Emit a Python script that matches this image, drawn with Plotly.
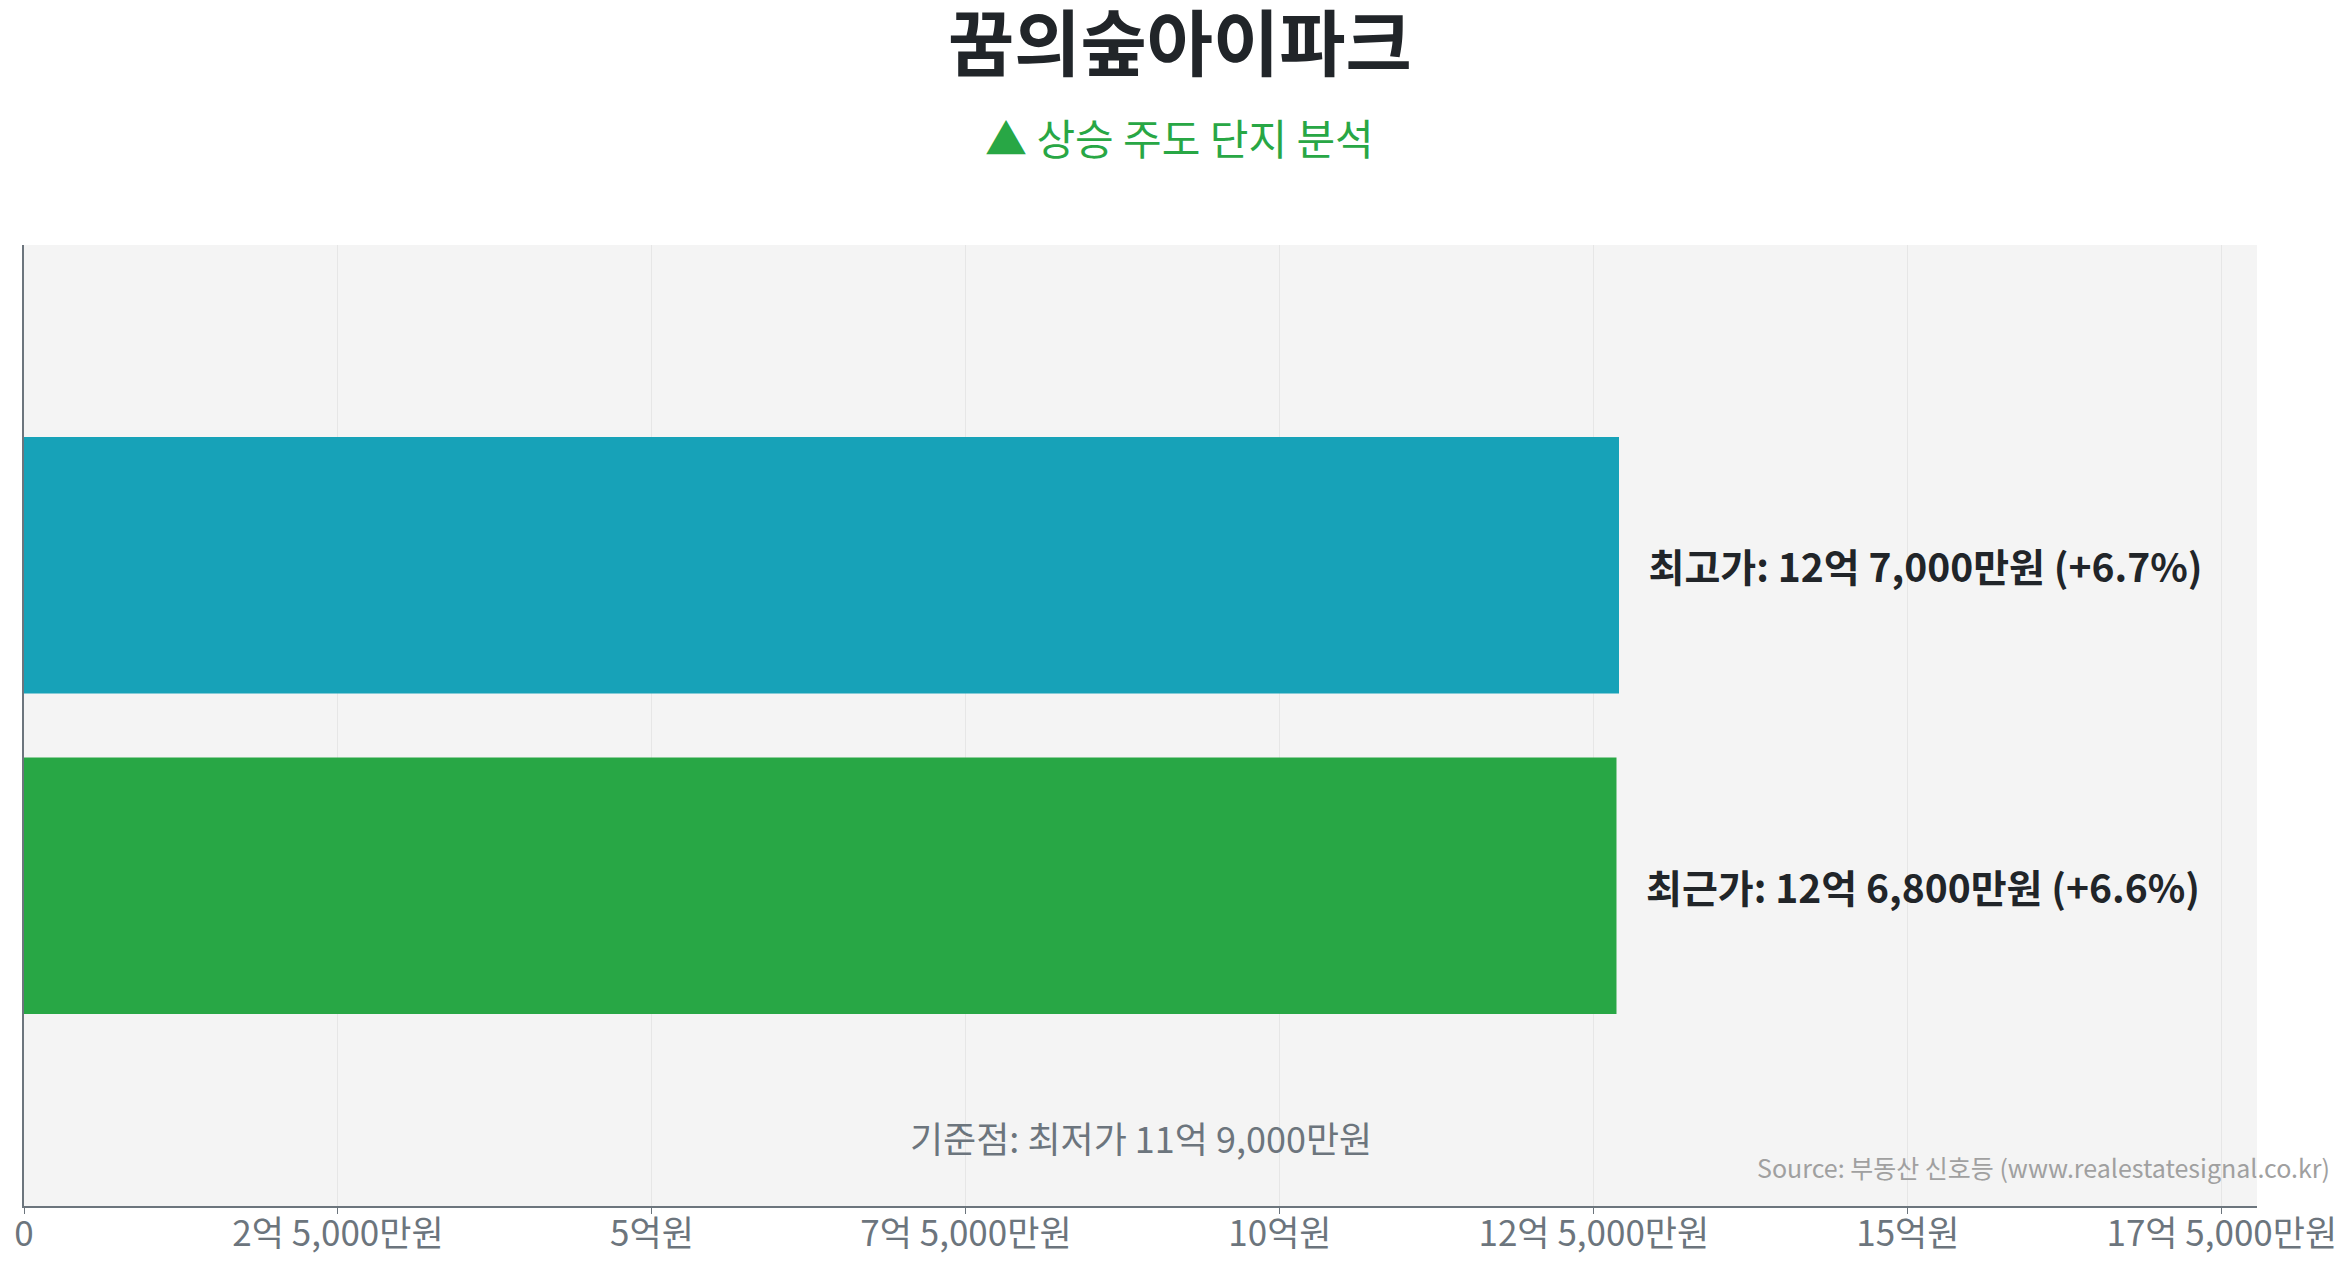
import plotly.graph_objects as go

complex_name = "꿈의숲아이파크"
subtitle = "▲ 상승 주도 단지 분석"

# 가격 (원)
series_names = ["최근가", "최고가"]
series_values = [1268000000, 1270000000]
series_labels = ["최근가: 12억 6,800만원 (+6.6%)", "최고가: 12억 7,000만원 (+6.7%)"]
series_colors = ["#28a745", "#17a2b8"]
base_label = "기준점: 최저가 11억 9,000만원"
source_text = "Source: 부동산 신호등 (www.realestatesignal.co.kr)"

tick_vals = [0, 250000000, 500000000, 750000000, 1000000000,
             1250000000, 1500000000, 1750000000]
tick_text = ["0", "2억 5,000만원", "5억원", "7억 5,000만원", "10억원",
             "12억 5,000만원", "15억원", "17억 5,000만원"]

FONT = "Noto Sans CJK KR"

fig = go.Figure()
for name, val, lab, col in zip(series_names, series_values, series_labels, series_colors):
    fig.add_trace(go.Bar(
        x=[val],
        y=[complex_name],
        orientation="h",
        name=name,
        marker=dict(color=col, line=dict(width=0)),
        text=["   " + lab],
        textposition="outside",
        textfont=dict(family=FONT, size=39, color="#212529", weight="bold"),
        cliponaxis=False,
        showlegend=False,
    ))

fig.update_layout(
    width=2335,
    height=1260,
    paper_bgcolor="white",
    plot_bgcolor="#f4f4f4",
    barmode="group",
    bargap=0.333,
    bargroupgap=0.2,
    margin=dict(l=16, r=86, t=237, b=62),
    font=dict(family=FONT, color="#6c757d"),
    xaxis=dict(
        range=[0, max(series_values) * 1.4],
        tickvals=tick_vals,
        ticktext=tick_text,
        tickfont=dict(size=35, color="#6c757d"),
        ticklabelstandoff=-10,
        automargin=False,
        showgrid=True,
        gridcolor="#e6e6e6",
        gridwidth=1,
        showline=True,
        linecolor="#6c757d",
        linewidth=2,
        ticks="outside",
        ticklen=6,
        tickcolor="#6c757d",
        zeroline=False,
    ),
    yaxis=dict(
        showticklabels=False,
        showline=True,
        linecolor="#6c757d",
        linewidth=2,
        showgrid=False,
        zeroline=False,
        automargin=False,
        range=[-0.5, 0.5],
    ),
    annotations=[
        dict(text="<b>" + complex_name + "</b>", xref="paper", yref="paper",
             x=0.5, y=1, yanchor="middle", xanchor="center", yshift=207, xshift=39,
             showarrow=False, font=dict(family=FONT, size=72, color="#212529")),
        dict(text=subtitle, xref="paper", yref="paper",
             x=0.5, y=1, yanchor="middle", xanchor="center", yshift=109, xshift=39,
             showarrow=False, font=dict(family=FONT, size=42, color="#28a745")),
        dict(text=base_label, xref="paper", yref="paper",
             x=0.5, y=0, xanchor="center", yanchor="middle", yshift=69,
             showarrow=False, font=dict(family=FONT, size=36, color="#6c757d")),
        dict(text=source_text, xref="paper", yref="paper",
             x=1, y=0, xanchor="right", yanchor="middle", xshift=75, yshift=39,
             showarrow=False, font=dict(family=FONT, size=25, color="#a0a0a0")),
    ],
)

fig.write_html("out.html")
